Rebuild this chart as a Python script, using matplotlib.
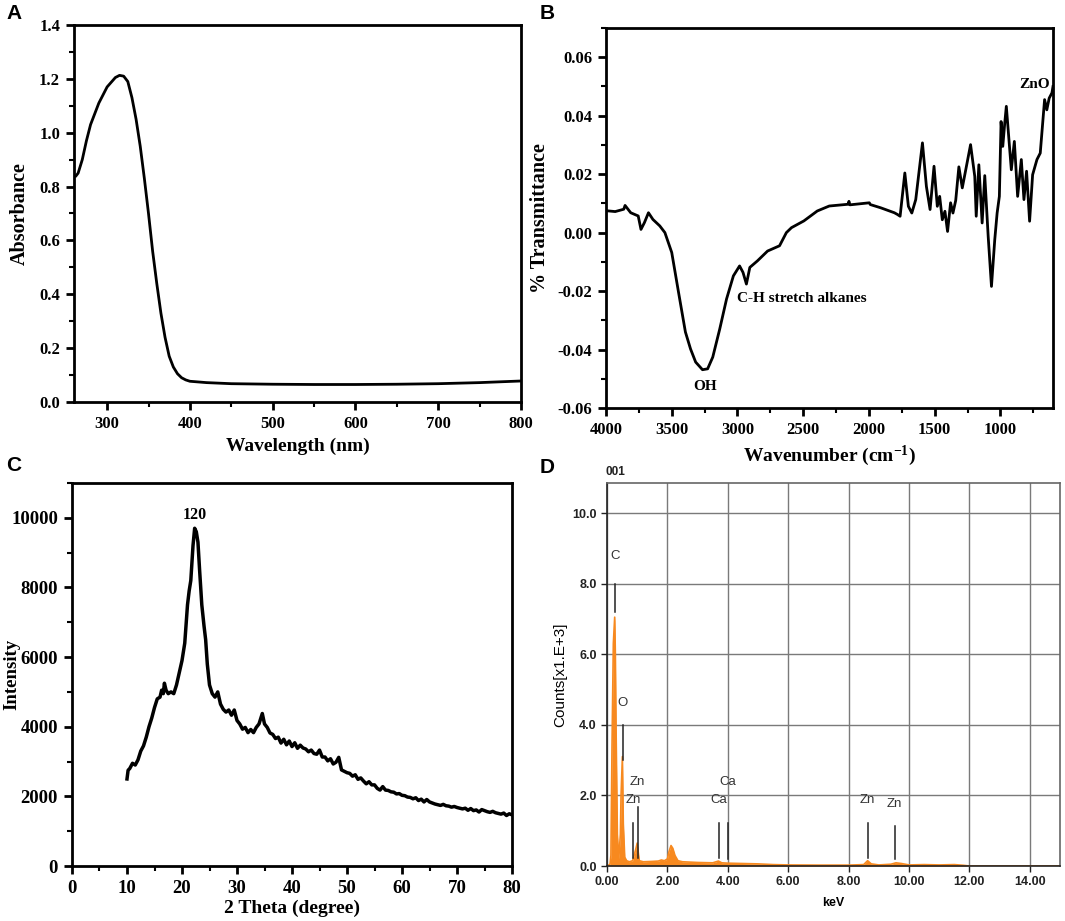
import matplotlib
matplotlib.use("Agg")
import matplotlib.pyplot as plt
from matplotlib.ticker import MultipleLocator, FormatStrFormatter

# ---- panel A: UV-vis ----
uv_nm = [260, 262, 265, 270, 275, 280, 290, 300, 310, 315, 320, 325, 330, 335, 340,
         345, 350, 355, 360, 365, 370, 375, 380, 385, 390, 395, 400, 420, 450, 500,
         550, 600, 650, 700, 750, 800]
uv_abs = [0.84, 0.838, 0.85, 0.90, 0.97, 1.03, 1.11, 1.17, 1.205, 1.213, 1.21, 1.19,
          1.13, 1.05, 0.95, 0.83, 0.70, 0.56, 0.44, 0.33, 0.24, 0.17, 0.13, 0.105,
          0.09, 0.082, 0.077, 0.072, 0.068, 0.066, 0.065, 0.065, 0.066, 0.068, 0.072, 0.078]

# ---- panel B: FTIR ----
ir_wn = [4000, 3930, 3865, 3855, 3812, 3755, 3734, 3708, 3677, 3643, 3591, 3552, 3500,
         3448, 3396, 3357, 3318, 3266, 3227, 3188, 3135, 3083, 3031, 2984, 2958, 2932,
         2906, 2849, 2771, 2680, 2628, 2589, 2495, 2393, 2302, 2159, 2152, 2145, 1997,
         1990, 1911, 1807, 1783, 1763, 1727, 1700, 1674, 1644, 1593, 1563, 1535, 1505,
         1480, 1462, 1442, 1422, 1402, 1379, 1361, 1340, 1316, 1290, 1227, 1195, 1184,
         1164, 1139, 1119, 1093, 1068, 1043, 1025, 1008, 995, 982, 967, 955, 937, 917,
         894, 869, 841, 821, 801, 778, 755, 722, 697, 664, 647, 629, 608, 600]
ir_t = [0.0075, 0.0072, 0.008, 0.0093, 0.0068, 0.0057, 0.0011, 0.0034, 0.0068, 0.0045,
        0.0023, 0.0, -0.0068, -0.0205, -0.034, -0.0398, -0.0443, -0.0469, -0.0466,
        -0.0426, -0.033, -0.0227, -0.0148, -0.0114, -0.0136, -0.0176, -0.0119, -0.0097,
        -0.0063, -0.0045, 0.0, 0.0017, 0.004, 0.0074, 0.0091, 0.0097, 0.0107, 0.0095,
        0.0102, 0.0096, 0.0085, 0.0068, 0.0062, 0.0056, 0.0204, 0.009, 0.0067, 0.0113,
        0.0307, 0.0158, 0.0079, 0.0227, 0.009, 0.0124, 0.0044, 0.0073, 0.0004, 0.0102,
        0.0067, 0.0110, 0.0225, 0.0153, 0.0301, 0.0192, 0.0056, 0.0232, 0.0033, 0.0195,
        -0.0013, -0.0184, -0.0024, 0.0067, 0.0124, 0.038, 0.0295, 0.0375, 0.0432,
        0.0329, 0.0215, 0.0312, 0.0124, 0.025, 0.0113, 0.021, 0.0039, 0.0198, 0.025,
        0.0272, 0.0455, 0.042, 0.046, 0.0478, 0.050]

# ---- panel C: XRD ----
xrd_2theta = [10.0, 10.2, 10.5, 11.0, 11.5, 12.0, 12.5, 13.0, 13.5, 14.0, 14.5, 15.0,
              15.5, 16.0, 16.3, 16.6, 16.8, 17.1, 17.5, 18.0, 18.5, 19.0, 19.5, 20.0,
              20.5, 21.0, 21.3, 21.6, 22.0, 22.3, 22.6, 22.9, 23.2, 23.6, 24.0, 24.3,
              24.6, 25.0, 25.5, 26.0, 26.5,
              27.0, 27.5, 28.0, 28.5, 29.0, 29.5, 30.0, 30.5, 31.0, 31.5, 32.0, 32.5,
              33.0, 33.5, 34.0, 34.6,
              35.0, 35.5, 36.0, 36.5, 37.0, 37.5, 38.0, 38.5, 39.0, 39.5,
              40.0, 40.5, 41.0, 41.5, 42.0, 42.5, 43.0, 43.5, 44.0, 44.5,
              45.0, 45.5, 46.0, 46.5, 47.0, 47.5, 48.0, 48.5, 49.0, 49.5,
              50.0, 50.5, 51.0, 51.5, 52.0, 52.5, 53.0, 53.5, 54.0, 54.5,
              55.0, 55.5, 56.0, 56.5, 57.0, 57.5, 58.0, 58.5, 59.0, 59.5,
              60.0, 60.5, 61.0, 61.5, 62.0, 62.5, 63.0, 63.5, 64.0, 64.5,
              65.0, 65.5, 66.0, 66.5, 67.0, 67.5, 68.0, 68.5, 69.0, 69.5,
              70.0, 70.5, 71.0, 71.5, 72.0, 72.5, 73.0, 73.5, 74.0, 74.5,
              75.0, 75.5, 76.0, 76.5, 77.0, 77.5, 78.0, 78.5, 79.0, 79.5,
              80.0]
xrd_int = [2500, 2750, 2800, 2950, 2900, 3050, 3300, 3450, 3700, 4000, 4250, 4550,
           4800, 4850, 5050, 4950, 5250, 5050, 4950, 5000, 4950, 5200, 5550, 5900,
           6400, 7500, 7900, 8200, 9200, 9700, 9600, 9300, 8500, 7500, 6900, 6500,
           5800, 5200, 4950, 4850, 5000,
           4650, 4500, 4420, 4480, 4330, 4480, 4180, 4080, 3930, 3980, 3830, 3920,
           3830, 3980, 4080, 4380,
           4080, 3980, 3820, 3780, 3660, 3700, 3530, 3640, 3480, 3590,
           3430, 3540, 3380, 3470, 3390, 3360, 3280, 3330, 3230, 3210,
           3330, 3130, 3130, 3020, 3080, 2930, 2980, 3120, 2760, 2720,
           2680, 2660, 2580, 2620, 2490, 2530, 2440, 2360, 2420, 2330,
           2330, 2230, 2180, 2280, 2180, 2170, 2130, 2120, 2070, 2080,
           2030, 2020, 1980, 1970, 1930, 1960, 1880, 1920, 1840, 1910,
           1840, 1810, 1780, 1760, 1740, 1770, 1730, 1720, 1690, 1710,
           1680, 1660, 1640, 1660, 1600, 1650, 1590, 1610, 1550, 1620,
           1590, 1560, 1540, 1570, 1530, 1510, 1490, 1520, 1450, 1500,
           1470]

# ---- panel D: EDS ----
eds_kev = [0.0, 0.10, 0.13, 0.166, 0.21, 0.255, 0.277, 0.30, 0.343, 0.39, 0.443, 0.465,
           0.51, 0.54, 0.587, 0.65, 0.74, 0.85, 0.96, 1.0, 1.04, 1.07, 1.2, 1.5, 1.7,
           1.8, 1.9, 2.0, 2.05, 2.12, 2.18, 2.25, 2.35, 2.5, 3.0, 3.5, 3.69, 3.8, 4.0,
           4.5, 5.0, 5.5, 6.0, 7.0, 8.0, 8.5, 8.63, 8.75, 9.0, 9.4, 9.57, 9.75, 10.0,
           10.5, 11.0, 11.5, 11.8, 12.0, 15.0]
eds_counts = [0.0, 0.05, 0.3, 3.4, 6.3, 7.05, 6.0, 3.9, 0.9, 0.2, 0.9, 2.0, 3.1, 1.2,
              0.25, 0.15, 0.12, 0.15, 0.5, 0.65, 0.35, 0.15, 0.12, 0.13, 0.14, 0.17,
              0.15, 0.2, 0.4, 0.58, 0.5, 0.3, 0.15, 0.12, 0.1, 0.09, 0.14, 0.09, 0.08,
              0.07, 0.06, 0.04, 0.03, 0.025, 0.025, 0.04, 0.15, 0.06, 0.03, 0.05, 0.09,
              0.07, 0.03, 0.04, 0.03, 0.04, 0.02, 0.0, 0.0]
eds_elements = ["C", "O", "Zn", "Zn", "Ca", "Ca", "Zn", "Zn"]
eds_line_kev = [0.28, 0.52, 0.875, 1.01, 3.70, 4.01, 8.63, 9.53]
eds_line_lo = [7.2, 3.0, 0.24, 0.24, 0.24, 0.2, 0.24, 0.2]
eds_line_hi = [8.0, 4.0, 1.23, 1.66, 1.23, 1.23, 1.23, 1.13]
eds_label_y = [8.6, 4.45, 1.7, 2.2, 1.7, 2.2, 1.7, 1.6]

W, H = 1065, 921
SERIF = "Liberation Serif"
SANS = "Liberation Sans"

plt.rcParams["font.family"] = SERIF
plt.rcParams["mathtext.fontset"] = "custom"
plt.rcParams["mathtext.rm"] = "Liberation Serif:bold"
plt.rcParams["mathtext.default"] = "rm"

fig = plt.figure(figsize=(W / 100, H / 100), dpi=100)


def box(x0, y0, x1, y1):
    return [x0 / W, 1 - y1 / H, (x1 - x0) / W, (y1 - y0) / H]


def style_origin(ax, xmaj, xmin, ymaj, ymin, size=12):
    for sp in ax.spines.values():
        sp.set_linewidth(2.0)
    ax.xaxis.set_major_locator(MultipleLocator(xmaj))
    ax.xaxis.set_minor_locator(MultipleLocator(xmin))
    ax.yaxis.set_major_locator(MultipleLocator(ymaj))
    ax.yaxis.set_minor_locator(MultipleLocator(ymin))
    ax.tick_params(which="major", direction="out", length=6, width=2, labelsize=size, pad=4)
    ax.tick_params(which="minor", direction="out", length=3.5, width=1.5)
    for lab in ax.get_xticklabels() + ax.get_yticklabels():
        lab.set_fontweight("bold")


# A
axA = fig.add_axes(box(74, 25, 521, 402))
axA.plot(uv_nm, uv_abs, color="black", lw=2)
axA.set_xlim(260, 800)
axA.set_ylim(0, 1.4)
style_origin(axA, 100, 50, 0.2, 0.1)
axA.yaxis.set_major_formatter(FormatStrFormatter("%.1f"))
axA.set_xlabel("Wavelength (nm)", fontsize=14, fontweight="bold", labelpad=4)
axA.set_ylabel("Absorbance", fontsize=14.5, fontweight="bold")
axA.yaxis.set_label_coords(-0.1, 0.5)

# B
axB = fig.add_axes(box(606, 28, 1053, 408))
axB.plot(ir_wn, ir_t, color="black", lw=2)
axB.set_xlim(4000, 600)
axB.set_ylim(-0.06, 0.07)
style_origin(axB, 500, 250, 0.02, 0.01)
axB.yaxis.set_major_formatter(FormatStrFormatter("%.2f"))
axB.set_xlabel("Wavenumber (cm$^{-1}$)", fontsize=14, fontweight="bold", labelpad=4)
axB.set_ylabel("% Transmittance", fontsize=14.5, fontweight="bold")
axB.yaxis.set_label_coords(-0.125, 0.5)
axB.text(3250, -0.0525, "OH", ha="center", va="center", fontsize=11, fontweight="bold")
axB.text(3005, -0.0224, "C-H stretch alkanes", ha="left", va="center", fontsize=11,
         fontweight="bold")
axB.text(740, 0.0506, "ZnO", ha="center", va="center", fontsize=11, fontweight="bold")

# C
axC = fig.add_axes(box(72, 483, 512, 866))
axC.plot(xrd_2theta, xrd_int, color="black", lw=2.5)
axC.set_xlim(0, 80)
axC.set_ylim(0, 11000)
style_origin(axC, 10, 5, 2000, 1000, size=13.5)
axC.set_xlabel("2 Theta (degree)", fontsize=14, fontweight="bold", labelpad=2)
axC.set_ylabel("Intensity", fontsize=13.5, fontweight="bold")
axC.yaxis.set_label_coords(-0.118, 0.5)
axC.text(22.4, 9850, "120", ha="center", va="bottom", fontsize=11.5, fontweight="bold")

# D
orange = "#F7891F"
axD = fig.add_axes(box(607, 483, 1060, 866))
axD.fill_between(eds_kev, 0, eds_counts, color=orange, lw=0)
axD.plot(eds_kev, eds_counts, color=orange, lw=1.2)
axD.set_xlim(0, 15)
axD.set_ylim(0, 10.85)
axD.xaxis.set_major_locator(MultipleLocator(2))
axD.yaxis.set_major_locator(MultipleLocator(2))
axD.xaxis.set_major_formatter(FormatStrFormatter("%.2f"))
axD.yaxis.set_major_formatter(FormatStrFormatter("%.1f"))
axD.grid(True, color="#7a7a7a", lw=1.0)
axD.set_axisbelow(True)
for name, sp in axD.spines.items():
    sp.set_linewidth(1.2)
    sp.set_color("#222222" if name in ("left", "bottom") else "#666666")
axD.tick_params(direction="out", length=4, width=1, labelsize=9, colors="#222222")
for lab in axD.get_xticklabels() + axD.get_yticklabels():
    lab.set_family(SANS)
    lab.set_fontweight("bold")
axD.set_xlabel("keV", fontsize=9, family=SANS, fontweight="bold", labelpad=6)
axD.set_ylabel("Counts[x1.E+3]", fontsize=11, family=SANS)
axD.yaxis.set_label_coords(-0.088, 0.5)
axD.text(0.28, 1.012, "001", transform=axD.get_xaxis_transform(), ha="center",
         va="bottom", fontsize=8.5, family=SANS, fontweight="bold", color="#222222")
for el, xk, lo, hi, ly in zip(eds_elements, eds_line_kev, eds_line_lo, eds_line_hi,
                              eds_label_y):
    axD.plot([xk, xk], [lo, hi], color="#222222", lw=1.1)
    axD.text(xk, ly, el, ha="center", va="bottom", fontsize=9.5, family=SANS,
             color="#333333")

# panel letters
for letter, (px, py) in zip("ABCD", [(6, 4), (540, 4), (6, 456), (540, 458)]):
    fig.text(px / W, 1 - py / H, letter, ha="left", va="top", fontsize=15,
             fontweight="bold", family=SANS)

fig.savefig("out.png", dpi=100)
